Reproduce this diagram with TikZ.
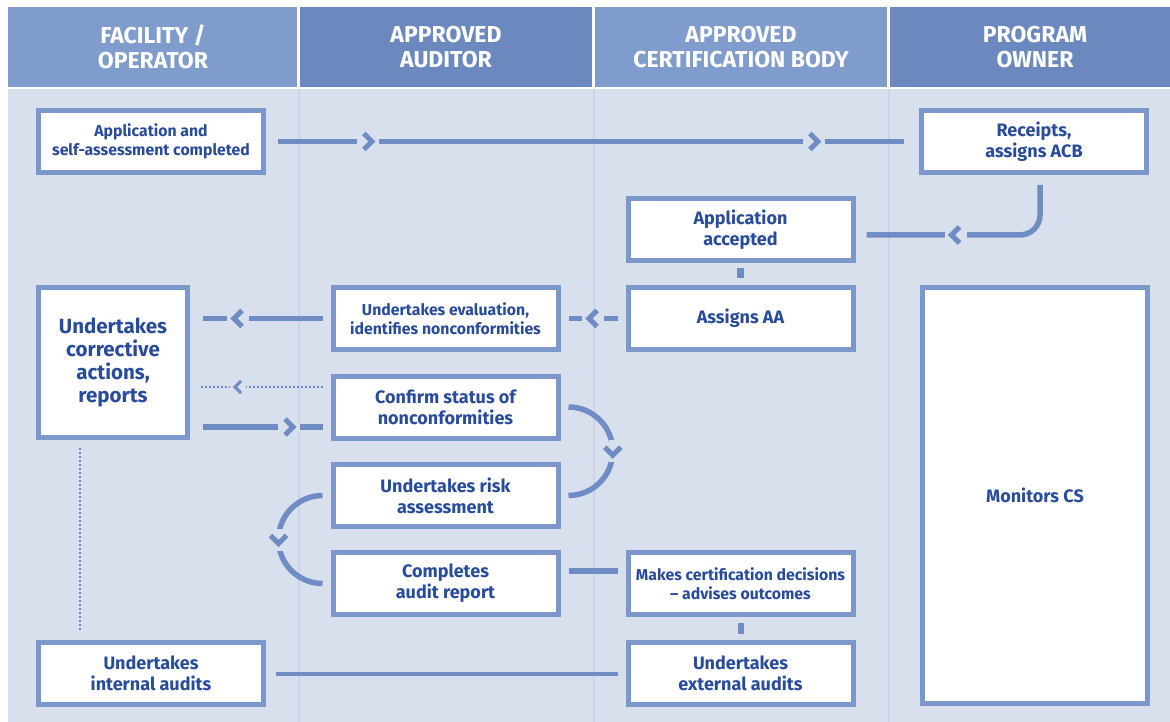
\documentclass[tikz,border=0pt]{standalone}
\usepackage{fontspec}
\setmainfont{Fira Sans}
\usepackage{graphicx}
\usetikzlibrary{calc}
\definecolor{bgc}{RGB}{216,224,237}
\definecolor{hdA}{RGB}{128,156,204}
\definecolor{hdB}{RGB}{108,137,191}
\definecolor{boxc}{RGB}{124,152,203}
\definecolor{linec}{RGB}{111,140,196}
\definecolor{txt}{RGB}{40,75,155}
\definecolor{sepc}{RGB}{203,212,230}
\tikzset{
 box/.style={draw=boxc, line width=5pt, fill=white, text=txt, align=center,
   font=\bfseries\fontsize{18}{21}\selectfont, minimum width=225pt, minimum height=62pt, inner sep=0pt},
 smalltext/.style={font=\bfseries\fontsize{15.8}{19}\selectfont},
 conn/.style={draw=linec, line width=5.5pt},
 thinconn/.style={draw=linec, line width=3.5pt},
 dotconn/.style={draw=linec, line width=2pt, dash pattern=on 2pt off 2pt},
 hdr/.style={text=white, align=center, font=\bfseries\fontsize{23}{25}\selectfont},
 pics/chev/.style={code={\fill[bgc] (-11,-4) rectangle (11,4);
   \draw[linec, line width=5pt, line join=miter] (-4,-8)--(4,0)--(-4,8);}},
 pics/chevthin/.style={code={\fill[bgc] (-8,-2) rectangle (8,2);
   \draw[linec, line width=3pt, line join=miter] (-3,-6)--(3,0)--(-3,6);}}
}
\newcommand{\hsq}[1]{\scalebox{1.0}[1]{#1}}
\begin{document}
\begin{tikzpicture}[x=1pt,y=-1pt]
\useasboundingbox (0,0) rectangle (1170,722);
\fill[white] (0,0) rectangle (1170,722);
% body and columns
\fill[bgc] (8,89) rectangle (1170,722);
\foreach \sx in {299,594,889} \draw[sepc, line width=1.2pt] (\sx,89) -- (\sx,722);
% header
\fill[hdA] (8,7) rectangle (297,87);
\fill[hdB] (300,7) rectangle (592,87);
\fill[hdA] (595,7) rectangle (887,87);
\fill[hdB] (890,7) rectangle (1170,87);
\node[hdr] (h1) at (153,47) {\hsq{FACILITY /}\\\hsq{OPERATOR}};
\node[hdr] (h2) at (446,47) {\hsq{APPROVED}\\\hsq{AUDITOR}};
\node[hdr] (h3) at (741,47) {\hsq{APPROVED}\\\hsq{CERTIFICATION BODY}};
\node[hdr] (h4) at (1035,47) {\hsq{PROGRAM}\\\hsq{OWNER}};
% boxes
\node[box, smalltext] (b1) at (151,141.5) {Application and\\self-assessment completed};
\node[box] (b2) at (1034,141.5) {Receipts,\\assigns ACB};
\node[box] (b3) at (740.5,229.5) {Application\\accepted};
\node[box] (b4) at (740.5,318.5) {Assigns AA};
\node[box, smalltext] (b5) at (445.5,318.5) {Undertakes evaluation,\\identifies nonconformities};
\node[box, minimum width=149pt, minimum height=150pt, font=\bfseries\fontsize{20.5}{23}\selectfont] (b6) at (113,362.5) {Undertakes\\corrective\\actions,\\reports};
\node[box] (b7) at (445.5,407) {Confirm status of\\nonconformities};
\node[box] (b8) at (445.5,495.5) {Undertakes risk\\assessment};
\node[box] (b9) at (445.5,583.5) {Completes\\audit report};
\node[box, smalltext] (b10) at (740.5,583.5) {Makes certification decisions\\– advises outcomes};
\node[box] (b11) at (151,673) {Undertakes\\internal audits};
\node[box] (b12) at (740.5,673) {Undertakes\\external audits};
\node[box, minimum height=416pt] (b13) at (1035,495.5) {Monitors CS};
% connectors
\draw[conn] ($(b1.east)+(12,0)$) -- ($(b2.west)+(-15,0)$);
\pic at ($(b1.east)!0.156!(b2.west)$) {chev};
\pic at ($(b1.east)!0.839!(b2.west)$) {chev};
\draw[conn, rounded corners=20pt] ($(b2.south)+(6,10)$) |- ($(b3.east)+(11,5.5)$);
\pic[rotate=180] at ($(b3.east)+(100,5.5)$) {chev};
\draw[conn, line width=7pt] ($(b3.south)+(0,5)$) -- ($(b4.north)+(0,-7)$);
\draw[conn] ($(b4.west)+(-8,0)$) -- ($(b5.east)+(8,0)$);
\pic[rotate=180] at ($(b4.west)!0.5!(b5.east)$) {chev};
\draw[conn] ($(b5.west)+(-8,0)$) -- ($(b6.east |- b5.west)+(13,0)$);
\pic[rotate=180] at ($(b6.east |- b5.west)+(48,0)$) {chev};
\draw[dotconn] ($(b7.west)+(-8,-20)$) -- ($(b6.east)+(10,24.5)$);
\pic[rotate=180] at ($(b6.east)+(48,24.5)$) {chevthin};
\draw[conn] ($(b6.east)+(13,64.5)$) -- ($(b7.west)+(-8,20)$);
\pic at ($(b6.east)+(99,64.5)$) {chev};
\draw[conn] ($(b7.east)+(8,0)$) arc[start angle=-90, end angle=90, radius=44.25];
\pic[rotate=-90] at ($(b7.east)+(52.25,44.25)$) {chev};
\draw[conn] ($(b8.west)+(-8,0)$) arc[start angle=-90, end angle=-270, radius=44];
\pic[rotate=-90] at ($(b8.west)+(-52,44)$) {chev};
\draw[conn] ($(b9.east)+(8,-12.5)$) -- ($(b10.west)+(-8,-12.5)$);
\draw[conn, line width=6pt] ($(b10.south)+(0,6)$) -- ($(b12.north)+(0,-6)$);
\draw[thinconn] ($(b11.east)+(10,1)$) -- ($(b12.west)+(-8,1)$);
\draw[dotconn] ($(b6.south west)+(44,8)$) -- ($(b11.north west)+(44,-8)$);
\end{tikzpicture}
\end{document}
